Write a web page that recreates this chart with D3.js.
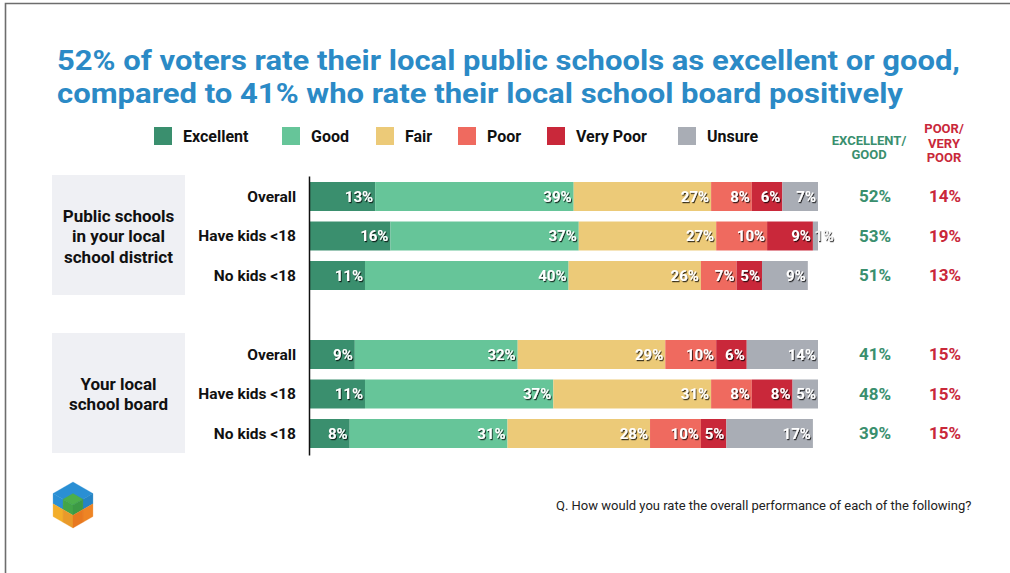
<!DOCTYPE html>
<html>
<head>
<meta charset="utf-8">
<script src="https://cdn.jsdelivr.net/npm/d3@7"></script>
<style>
  html, body { margin: 0; padding: 0; background: #fff; }
  svg { display: block; }
  text { font-family: Roboto, "Open Sans", sans-serif; }
</style>
</head>
<body>
<svg id="chart" width="1010" height="573"></svg>
<script>
// Rating categories and their colours
const categories = ["Excellent", "Good", "Fair", "Poor", "Very Poor", "Unsure"];
const colors = ["#3a8f6e", "#66c599", "#ecca78", "#ef6a5f", "#c9283a", "#a9adb5"];

// Sub-groups shown for each question
const rowLabels = ["Overall", "Have kids <18", "No kids <18"];

// Share of each rating (%), one array per sub-group
const schoolValues = [
  [13, 39, 27, 8, 6, 7],
  [16, 37, 27, 10, 9, 1],
  [11, 40, 26, 7, 5, 9]
];
const boardValues = [
  [9, 32, 29, 10, 6, 14],
  [11, 37, 31, 8, 8, 5],
  [8, 31, 28, 10, 5, 17]
];

// Combined totals printed at the right
const schoolExcellentGood = [52, 53, 51];
const schoolPoorVeryPoor = [14, 19, 13];
const boardExcellentGood = [41, 48, 39];
const boardPoorVeryPoor = [15, 15, 15];

const groupTitles = [
  ["Public schools", "in your local", "school district"],
  ["Your local", "school board"]
];

const titleLines = [
  "52% of voters rate their local public schools as excellent or good,",
  "compared to 41% who rate their local school board positively"
];
const footnote = "Q. How would you rate the overall performance of each of the following?";

const svg = d3.select("#chart");

// Drop shadow used on the in-bar percentages
const defs = svg.append("defs");
const f = defs.append("filter").attr("id", "shadow")
  .attr("x", "-20%").attr("y", "-30%").attr("width", "150%").attr("height", "170%");
f.append("feDropShadow").attr("dx", 1).attr("dy", 1.2).attr("stdDeviation", 0.7)
  .attr("flood-color", "#000").attr("flood-opacity", 0.75);

// Frame
svg.append("path").attr("d", "M5.5,573 V3.5 H1010")
  .attr("fill", "none").attr("stroke", "#6d6d6d").attr("stroke-width", 1.6);

// Title
svg.append("g").selectAll("text").data(titleLines).join("text")
  .attr("x", 57).attr("y", (d, i) => 70 + i * 33)
  .attr("font-size", 28.5).attr("font-weight", 700).attr("fill", "#2b8ac6")
  .attr("textLength", (d, i) => i === 0 ? 903 : 846)
  .attr("lengthAdjust", "spacingAndGlyphs")
  .text(d => d);

// Legend
const legendX = [154, 282, 376, 458, 547, 678];
const legend = svg.append("g").selectAll("g").data(categories).join("g")
  .attr("transform", (d, i) => `translate(${legendX[i]},127)`);
legend.append("rect").attr("width", 18).attr("height", 18).attr("fill", (d, i) => colors[i]);
legend.append("text").attr("x", 29).attr("y", 15)
  .attr("font-size", 16).attr("font-weight", 700).attr("fill", "#111").text(d => d);

// Column headers for the totals
svg.append("text").attr("text-anchor", "middle").attr("font-size", 13).attr("font-weight", 700)
  .attr("fill", "#3a8f6e")
  .selectAll("tspan").data(["EXCELLENT/", "GOOD"]).join("tspan")
  .attr("x", 869).attr("y", (d, i) => 145 + i * 13.5).text(d => d);
svg.append("text").attr("text-anchor", "middle").attr("font-size", 13).attr("font-weight", 700)
  .attr("fill", "#c9283a")
  .selectAll("tspan").data(["POOR/", "VERY", "POOR"]).join("tspan")
  .attr("x", 944).attr("y", (d, i) => 133 + i * 14.5).text(d => d);

// Scales
const x = d3.scaleLinear().domain([0, 100]).range([309, 818]);
const rowKeys = ["s0", "s1", "s2", "gap", "b0", "b1", "b2"];
const y = d3.scaleBand().domain(rowKeys).range([176.75, 453.25])
  .paddingInner(0.266).paddingOuter(0.133);

const rows = [
  ...schoolValues.map((v, i) => ({ key: "s" + i, label: rowLabels[i], values: v,
    eg: schoolExcellentGood[i], pv: schoolPoorVeryPoor[i] })),
  ...boardValues.map((v, i) => ({ key: "b" + i, label: rowLabels[i], values: v,
    eg: boardExcellentGood[i], pv: boardPoorVeryPoor[i] }))
];

// Group label panels
const groupSpans = [["s0", "s2"], ["b0", "b2"]];
const panels = svg.append("g").selectAll("g").data(groupSpans).join("g");
panels.append("rect")
  .attr("x", 52).attr("width", 133)
  .attr("y", d => y(d[0]) - 7)
  .attr("height", d => y(d[1]) + y.bandwidth() - y(d[0]) + 12)
  .attr("fill", "#eff0f4");
panels.each(function(d, gi) {
  const lines = groupTitles[gi];
  const cy = (y(d[0]) + y(d[1]) + y.bandwidth()) / 2;
  const lh = 20.5;
  d3.select(this).append("text").attr("text-anchor", "middle")
    .attr("font-size", 17).attr("font-weight", 700).attr("fill", "#111")
    .selectAll("tspan").data(lines).join("tspan")
    .attr("x", 118.5)
    .attr("y", (t, i) => cy + 6 + (i - (lines.length - 1) / 2) * lh)
    .text(t => t);
});

// Stacked bars
const rowG = svg.append("g").selectAll("g").data(rows).join("g")
  .attr("transform", d => `translate(0,${y(d.key)})`);

rowG.each(function(r) {
  let acc = 0;
  const segs = r.values.map((v, i) => {
    const s = { v, i, x0: acc, x1: acc + v };
    acc += v;
    return s;
  });
  const g = d3.select(this);
  g.selectAll("rect").data(segs).join("rect")
    .attr("x", s => x(s.x0)).attr("width", s => x(s.x1) - x(s.x0))
    .attr("height", y.bandwidth()).attr("fill", s => colors[s.i]);
  g.selectAll("text.val").data(segs).join("text").attr("class", "val")
    .attr("x", s => Math.max(x(s.x1) - 2, x(s.x0) + 21))
    .attr("y", y.bandwidth() / 2 + 5.5)
    .attr("text-anchor", "end")
    .attr("font-size", 15).attr("font-weight", 700)
    .attr("fill", s => (x(s.x1) - x(s.x0) < 20 ? "#f2f2f2" : "#fff"))
    .attr("filter", "url(#shadow)")
    .text(s => s.v + "%");
  // Row label
  g.append("text").attr("x", 296).attr("y", y.bandwidth() / 2 + 5.5)
    .attr("text-anchor", "end").attr("font-size", 15.5).attr("font-weight", 700)
    .attr("fill", "#111").text(r.label);
  // Totals
  g.append("text").attr("x", 875).attr("y", y.bandwidth() / 2 + 6)
    .attr("text-anchor", "middle").attr("font-size", 17).attr("font-weight", 700)
    .attr("fill", "#3a8f6e").text(r.eg + "%");
  g.append("text").attr("x", 945).attr("y", y.bandwidth() / 2 + 6)
    .attr("text-anchor", "middle").attr("font-size", 17).attr("font-weight", 700)
    .attr("fill", "#c9283a").text(r.pv + "%");
});

// Baseline axis
svg.append("g").attr("transform", `translate(${x(0)},0)`)
  .call(d3.axisLeft(d3.scaleLinear().range([176, 455])).ticks(0).tickSize(0))
  .call(g => g.select(".domain").attr("stroke", "#111").attr("stroke-width", 1.5));

// Footnote
svg.append("text").attr("x", 556).attr("y", 510)
  .attr("font-family", "'Open Sans', sans-serif")
  .attr("font-size", 13).attr("fill", "#222").text(footnote);

// Logo: isometric cube, banded blue / green / orange
const lc = [73, 505], r = 23, h = r * Math.sqrt(3) / 2;
const P = {
  T: [lc[0], lc[1] - r], UR: [lc[0] + h, lc[1] - r / 2], LR: [lc[0] + h, lc[1] + r / 2],
  B: [lc[0], lc[1] + r], LL: [lc[0] - h, lc[1] + r / 2], UL: [lc[0] - h, lc[1] - r / 2], C: lc
};
const mid = (a, b, t = 0.5) => [a[0] + (b[0] - a[0]) * t, a[1] + (b[1] - a[1]) * t];
const lUp = mid(P.UL, P.LL, 0.45), cDn = mid(P.C, P.B, 0.45), rUp = mid(P.UR, P.LR, 0.45);
const logoFaces = [
  // top face
  { pts: [P.T, P.UR, P.C, P.UL], fill: "#2a8fd4" },
  { pts: [mid(P.UL, P.C), mid(P.T, P.C), mid(P.UR, P.C), P.C], fill: "#4caf4c" },
  // left face
  { pts: [P.UL, mid(P.UL, P.C), mid(lUp, cDn), lUp], fill: "#2a8fd4" },
  { pts: [mid(P.UL, P.C), P.C, cDn, mid(lUp, cDn)], fill: "#43a548" },
  { pts: [lUp, mid(lUp, cDn), mid(P.LL, P.B), P.LL], fill: "#f3ae2a" },
  { pts: [mid(lUp, cDn), cDn, P.B, mid(P.LL, P.B)], fill: "#e99a2a" },
  // right face
  { pts: [P.UR, mid(P.UR, P.C), mid(rUp, cDn), rUp], fill: "#2584c4" },
  { pts: [mid(P.UR, P.C), P.C, cDn, mid(rUp, cDn)], fill: "#3c9a45" },
  { pts: [rUp, mid(rUp, cDn), mid(P.LR, P.B), P.LR], fill: "#ee8424" },
  { pts: [mid(rUp, cDn), cDn, P.B, mid(P.LR, P.B)], fill: "#e8781f" }
];
svg.append("g").selectAll("polygon").data(logoFaces).join("polygon")
  .attr("points", d => d.pts.map(p => p.join(",")).join(" "))
  .attr("fill", d => d.fill).attr("stroke", d => d.fill).attr("stroke-width", 0.3);
</script>
</body>
</html>
